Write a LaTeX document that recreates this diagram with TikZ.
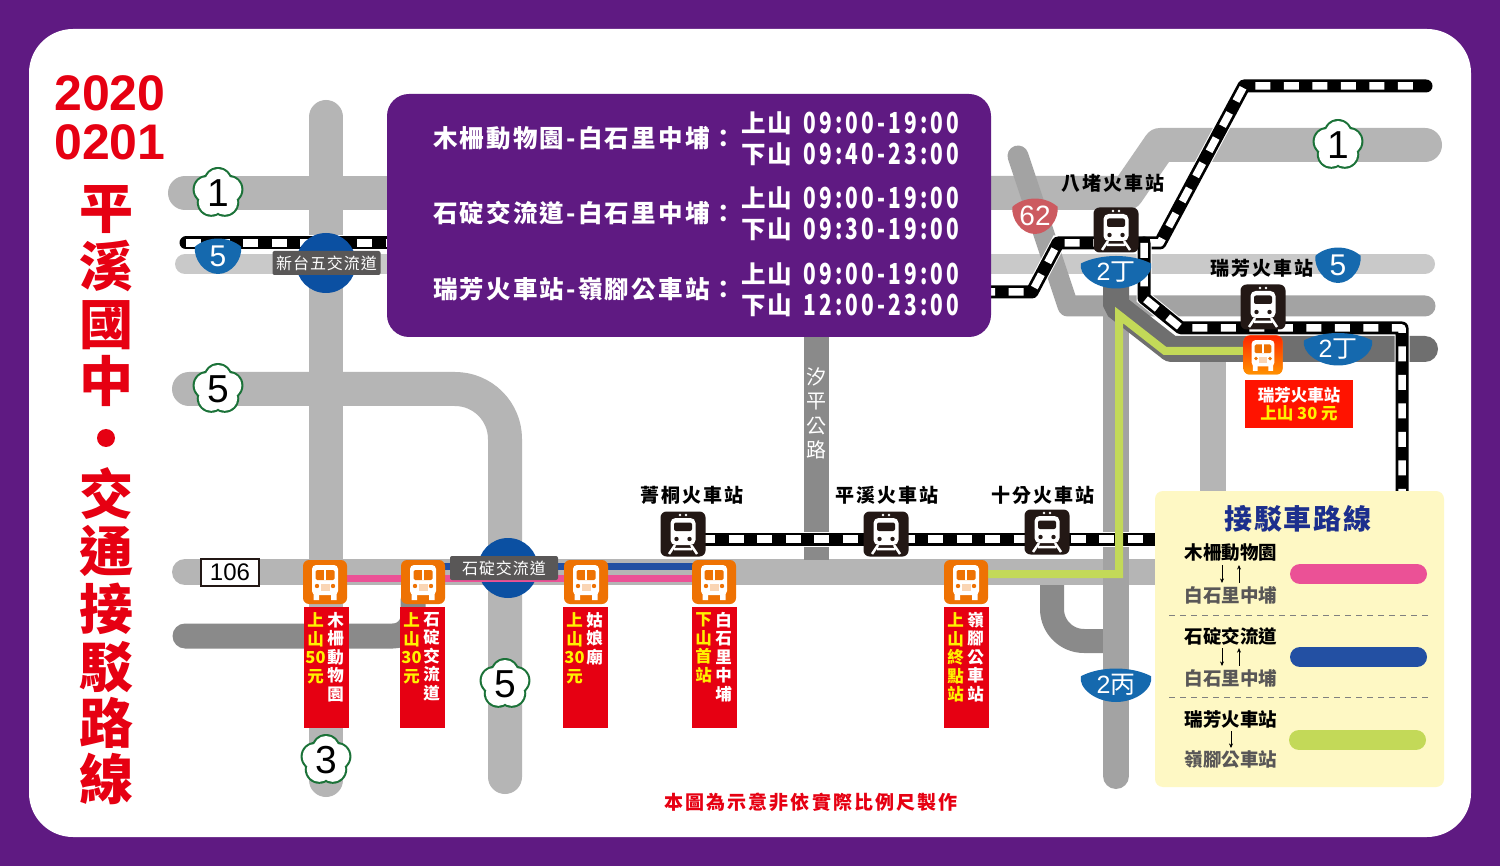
\documentclass[tikz,border=0pt]{standalone}
\usepackage{fontspec}
\setmainfont{Noto Sans CJK TC}
\newfontfamily\cjkwide[LetterSpace=11]{Noto Sans CJK TC}
\newfontfamily\cjkroute[LetterSpace=9]{Noto Sans CJK TC}
\newfontfamily\cjkmid[LetterSpace=6]{Noto Sans CJK TC}
\newfontfamily\timefont[FakeStretch=0.72,LetterSpace=11]{Noto Sans CJK TC}
\newfontfamily\latinsign{Liberation Sans}
\usetikzlibrary{arrows.meta}

\definecolor{purplebg}{HTML}{5F1A82}
\definecolor{roadlight}{HTML}{B5B5B5}
\definecolor{roadpale}{HTML}{C9C9C9}
\definecolor{roadmid}{HTML}{A3A3A3}
\definecolor{roaddark}{HTML}{8A8A8A}
\definecolor{roadblack}{HTML}{6F6F6F}
\definecolor{signblue}{HTML}{1569AE}
\definecolor{ringblue}{HTML}{0B50A2}
\definecolor{signred}{HTML}{CC5A60}
\definecolor{plumgreen}{HTML}{1B7238}
\definecolor{tagred}{HTML}{E60012}
\definecolor{lineblue}{HTML}{2350A3}
\definecolor{linepink}{HTML}{EB5196}
\definecolor{linegreen}{HTML}{C3D958}
\definecolor{busorange}{HTML}{EE7203}
\definecolor{trainblack}{HTML}{231815}
\definecolor{labelgray}{HTML}{595757}
\definecolor{legendbg}{HTML}{FEF8C4}
\definecolor{legendblue}{HTML}{1C2F8D}

\tikzset{
	road/.style={line width=#1, line cap=round, line join=round},
	road/.default=34pt,
	rail/.style={draw=black, line width=13pt, line join=round, line cap=round,
		preaction={draw=white, line width=15pt},
		postaction={draw=white, line width=7.5pt, line cap=butt, dash pattern=on 15pt off 13.5pt}},
	route/.style={line width=#1, line join=miter},
	trainbox/.style={fill=trainblack, rounded corners=6pt, minimum width=45pt, minimum height=45pt, inner sep=0pt},
	busbox/.style={fill=busorange, rounded corners=6pt, minimum width=44pt, minimum height=44pt, inner sep=0pt},
	stationtxt/.style={font=\fontsize{19}{19}\selectfont\bfseries\cjkwide, text=black, inner sep=0pt},
	ictxt/.style={fill=labelgray, rounded corners=2pt, text=white, minimum width=108pt, minimum height=24pt,
		inner sep=0pt, font=\fontsize{16}{16}\selectfont\cjkmid},
	tagbox/.style={fill=tagred, minimum width=45pt, minimum height=121pt, inner sep=0pt},
	tagcol/.style={anchor=north, align=center, inner sep=0pt, font=\fontsize{16.5}{18.5}\selectfont\bfseries},
	timetxt/.style={anchor=west, text=white, inner sep=0pt, font=\fontsize{24.5}{25}\selectfont\bfseries\cjkroute},
	digittxt/.style={anchor=west, text=white, inner sep=0pt, font=\fontsize{29}{29}\selectfont\bfseries\timefont},
	legendtxt/.style={inner sep=0pt, font=\fontsize{18.5}{18.5}\selectfont\bfseries},
	legendbar/.style={line width=20pt, line cap=round},
	legendarrow/.style={-{Stealth[length=4.5pt,width=4pt]}, semithick},
	plumnum/.style={inner sep=0pt, font=\fontsize{39}{39}\selectfont\latinsign, text=black},
	signnum/.style={inner sep=0pt, text=white, font=\fontsize{#1}{#1}\selectfont\latinsign},
	plumsign/.pic={
		\foreach \a in {90,162,234,306,18} \fill[plumgreen] (\a:11.5pt) circle (14.5pt);
		\foreach \a in {90,162,234,306,18} \fill[white] (\a:11.5pt) circle (12.5pt);
		\fill[white] (0,0) circle (12pt);
	},
	buspic/.pic={
		\fill[white, rounded corners=4pt] (-13,-17) rectangle (13,13);
		\fill[white] (-11.5,10) rectangle (-6,18) (6,10) rectangle (11.5,18);
		\fill[busorange, rounded corners=1.5pt] (-9.5,-12) rectangle (9.5,-2);
		\fill[white] (-0.7,-12) rectangle (0.7,-2);
		\fill[busorange] (-8,4) circle (2.2pt) (8,4) circle (2.2pt);
		\fill[busorange!30] (-4.5,2) rectangle (4.5,9);
	},
	trainpic/.pic={
		\fill[white, rounded corners=5pt] (-12.5,-16) rectangle (12.5,11);
		\fill[trainblack, rounded corners=2pt] (-9,-11.5) rectangle (9,-3);
		\fill[trainblack] (-6.5,5) circle (2.2pt) (6.5,5) circle (2.2pt);
		\fill[white] (-3,-19) circle (1.3pt) (3,-19) circle (1.3pt);
		\draw[white, line width=2.5pt] (-8,11) -- (-14,20) (8,11) -- (14,20) (-9,15) -- (9,15);
	}
}

% bouclier d'autoroute : nom, x, y, largeur, hauteur, couleur
\newcommand{\roadshield}[6]{
	\begin{scope}[shift={(#2,#3)}, xscale=#4/100, yscale=#5/100]
		\fill[#6] (-50,-26) .. controls (-22,-56) and (22,-56) .. (50,-26)
			.. controls (54,8) and (30,50) .. (0,50) .. controls (-30,50) and (-54,8) .. (-50,-26) -- cycle;
	\end{scope}
	\coordinate (#1) at (#2,#3);
}

\begin{document}
\begin{tikzpicture}[x=1pt, y=-1pt]
	\useasboundingbox (0,0) rectangle (1500,866);
	\fill[purplebg] (0,0) rectangle (1500,866);
	\fill[white, rounded corners=44pt] (29,29) rectangle (1471,837);

	% Routes
	\draw[road, roadlight] (326,117) -- (326,780);
	\draw[road, roadlight] (185,193) -- (420,193);
	\draw[road, roadlight] (980,193) -- (1127,193) -- (1160,145) -- (1425,145);
	\draw[road=20pt, roadpale] (185,264) -- (420,264);
	\draw[road=20pt, roadpale] (980,264) -- (1425,264);
	\draw[road=21pt, roadmid] (1018,156) -- (1068,306) -- (1425,306);
	\draw[road, roadlight, rounded corners=50pt] (189,389) -- (505,389) -- (505,777);
	\draw[road=26pt, roadlight] (185,572) -- (1170,572);
	\draw[road=25pt, roaddark, rounded corners=20pt] (185,636) -- (413,636) -- (413,600);
	\draw[road=25pt, roaddark, line cap=butt] (816,330) -- (816,560);
	\draw[road=24pt, roaddark, rounded corners=32pt, line cap=butt] (1052,585) -- (1052,641) -- (1110,641);
	\draw[road=26pt, roadlight, line cap=butt] (1213,360) -- (1213,500);
	\draw[road=26pt, roadmid] (1116,300) -- (1116,776);
	\draw[road=26pt, roadblack, line cap=butt, line join=bevel] (1116,285) -- (1116,306) -- (1171,349) -- (1425,349);
	\draw[road=26pt, roadblack] (1171,349) -- (1425,349);
	\foreach \y/\t in {377/汐,402/平,426/公,450/路}
		\node[text=white, inner sep=0pt, font=\fontsize{20}{20}\selectfont] (road\t) at (816,\y) {\t};

	% Voies ferrees
	\draw[rail] (186,243) -- (400,243);
	\draw[rail] (980,292) -- (1032,292) -- (1058,243) -- (1160,243) -- (1244,86) -- (1426,86);
	\draw[rail] (1144,243) -- (1144,298) -- (1181,328) -- (1402,328) -- (1402,500);
	\draw[rail] (700,539) -- (1170,539);

	% Echangeurs
	\fill[ringblue] (326,263) circle (30pt);
	\fill[ringblue] (508,568) circle (30pt);

	% Lignes de navette
	\draw[route=7pt, lineblue] (440,566) -- (714,566);
	\draw[route=7pt, linepink] (325,578) -- (714,578);
	\draw[route=8pt, linegreen] (966,574) -- (1119,574) -- (1119,315) -- (1165,351) -- (1263,351);

	% Panneau horaire
	\node[fill=purplebg, rounded corners=22pt, minimum width=604pt, minimum height=243pt, inner sep=0pt] (panel) at (689,215.5) {};
	\foreach \y/\route/\upt/\downt in {138/木柵動物園-白石里中埔：/09:00-19:00/09:40-23:00,
			213/石碇交流道-白石里中埔：/09:00-19:00/09:30-19:00,
			289/瑞芳火車站-嶺腳公車站：/09:00-19:00/12:00-23:00} {
		\node[timetxt] at (433,\y) {\route};
		\node[timetxt] at (741,\y-15) {上山};
		\node[digittxt] at (803,\y-15) {\upt};
		\node[timetxt] at (741,\y+16) {下山};
		\node[digittxt] at (803,\y+16) {\downt};
	}

	% Titre
	\node[inner sep=0pt, text=tagred, align=left, font=\fontsize{50}{49}\selectfont\bfseries\latinsign] (year) at (110,118) {2020\\0201};
	\foreach \y/\t in {210/平,266/溪,325/國,381/中,494/交,551/通,609/接,667/駁,723/路,779/線}
		\node[inner sep=0pt, text=tagred, font=\fontsize{54}{54}\selectfont\bfseries] (title\t) at (106,\y) {\t};
	\fill[tagred] (106,438) circle (9pt);

	% Gares
	\foreach \nm/\x/\y in {trainA/683/534,trainB/886/534,trainC/1047/532,trainD/1116/230,trainE/1263/307} {
		\node[trainbox] (\nm) at (\x,\y) {};
		\path (\nm) pic {trainpic};
	}
	\node[stationtxt] (staA) at (692,495) {菁桐火車站};
	\node[stationtxt] (staB) at (887,495) {平溪火車站};
	\node[stationtxt] (staC) at (1043,495) {十分火車站};
	\node[stationtxt] (staD) at (1113,183) {八堵火車站};
	\node[stationtxt] (staE) at (1262,268) {瑞芳火車站};

	% Arrets de bus et tarifs
	\foreach \nm/\x/\tx/\fare/\stop in {A/325/326.5/{上\\山\\50\\元}/{木\\柵\\動\\物\\園},
			B/423/422.5/{上\\山\\30\\元}/{石\\碇\\交\\流\\道},
			C/586/585.5/{上\\山\\30\\元}/{姑\\娘\\廟},
			D/714/714.5/{下\\山\\首\\站}/{白\\石\\里\\中\\埔},
			E/966/966.5/{上\\山\\終\\點\\站}/{嶺\\腳\\公\\車\\站}} {
		\node[busbox] (bus\nm) at (\x,582) {};
		\path (bus\nm) pic {buspic};
		\node[tagbox] (tag\nm) at (\tx,667.5) {};
		\node[tagcol, text=yellow] at ([xshift=-11pt, yshift=-6pt]tag\nm.north) {\fare};
		\node[tagcol, text=white] at ([xshift=9pt, yshift=-5pt]tag\nm.north) {\stop};
	}
	\node[fill=orange, top color=red!70!orange, bottom color=orange!85!yellow, rounded corners=6pt, minimum width=39pt, minimum height=39pt, inner sep=0pt] (busF) at (1263,355) {};
	\path (busF) pic[scale=0.88] {buspic};
	\node[fill=red!85!orange, minimum width=108pt, minimum height=48pt, inner sep=0pt, align=center, text=white,
		font=\fontsize{16.5}{18}\selectfont\bfseries] (tagF) at (1299,404) {瑞芳火車站\\\textcolor{yellow}{上山 30 元}};

	% Etiquettes
	\node[ictxt] (icA) at (326.5,263) {新台五交流道};
	\node[ictxt] (icB) at (504,568) {石碇交流道};
	\node[draw=trainblack, line width=2pt, fill=white, minimum width=58pt, minimum height=27pt, inner sep=0pt,
		font=\fontsize{24}{24}\selectfont\latinsign] (sign106) at (230,572) {106};

	% Panneaux
	\foreach \nm/\x/\y/\n in {plumA/218/193/1,plumB/1338/145/1,plumC/218/389/5,plumD/505/684/5,plumE/326/760/3} {
		\path (\x,\y) pic {plumsign};
		\node[plumnum] (\nm) at (\x,\y) {\n};
	}
	\roadshield{shieldA}{218}{256}{46}{36}{signblue}
	\node[signnum=30] at (shieldA) {5};
	\roadshield{shieldB}{1338}{265}{45}{36}{signblue}
	\node[signnum=30] at (shieldB) {5};
	\roadshield{shieldC}{1035}{216}{45}{36}{signred}
	\node[signnum=28] at (shieldC) {62};
	\roadshield{shieldD}{1116}{272}{70}{33}{signblue}
	\node[signnum=25] at (shieldD) {2{\rmfamily 丁}};
	\roadshield{shieldE}{1338}{349}{68}{33}{signblue}
	\node[signnum=25] at (shieldE) {2{\rmfamily 丁}};
	\roadshield{shieldF}{1116}{685}{70}{34}{signblue}
	\node[signnum=25] at (shieldF) {2{\rmfamily 丙}};

	% Legende
	\node[fill=legendbg, rounded corners=8pt, minimum width=289pt, minimum height=296pt, inner sep=0pt] (legend) at (1299.5,639) {};
	\node[inner sep=0pt, text=legendblue, font=\fontsize{28}{28}\selectfont\bfseries\cjkmid] (legendtitle) at (1298,519) {接駁車路線};
	\node[legendtxt] (fromA) at (1231,553) {木柵動物園};
	\node[legendtxt, text=labelgray] (toA) at (1231,595) {白石里中埔};
	\node[legendtxt] (fromB) at (1231,636) {石碇交流道};
	\node[legendtxt, text=labelgray] (toB) at (1231,678) {白石里中埔};
	\node[legendtxt] (fromC) at (1231,719) {瑞芳火車站};
	\node[legendtxt, text=labelgray] (toC) at (1231,760) {嶺腳公車站};
	\foreach \r in {A,B} {
		\draw[legendarrow] ([xshift=-9pt,yshift=-3pt]from\r.south) -- ([xshift=-9pt,yshift=3pt]to\r.north);
		\draw[legendarrow] ([xshift=8pt,yshift=3pt]to\r.north) -- ([xshift=8pt,yshift=-3pt]from\r.south);
	}
	\draw[legendarrow] ([yshift=-3pt]fromC.south) -- ([yshift=3pt]toC.north);
	\draw[legendbar, linepink] (1300,574) -- (1417,574);
	\draw[legendbar, lineblue] (1300,657) -- (1417,657);
	\draw[legendbar, linegreen] (1299,740) -- (1416,740);
	\draw[gray, dash pattern=on 6pt off 5pt] (1169,615) -- (1432,615);
	\draw[gray, dash pattern=on 6pt off 5pt] (1169,697) -- (1432,697);

	% Note
	\node[inner sep=0pt, text=tagred, font=\fontsize{19}{19}\selectfont\bfseries\cjkwide] (note) at (811,802) {本圖為示意非依實際比例尺製作};
\end{tikzpicture}
\end{document}
